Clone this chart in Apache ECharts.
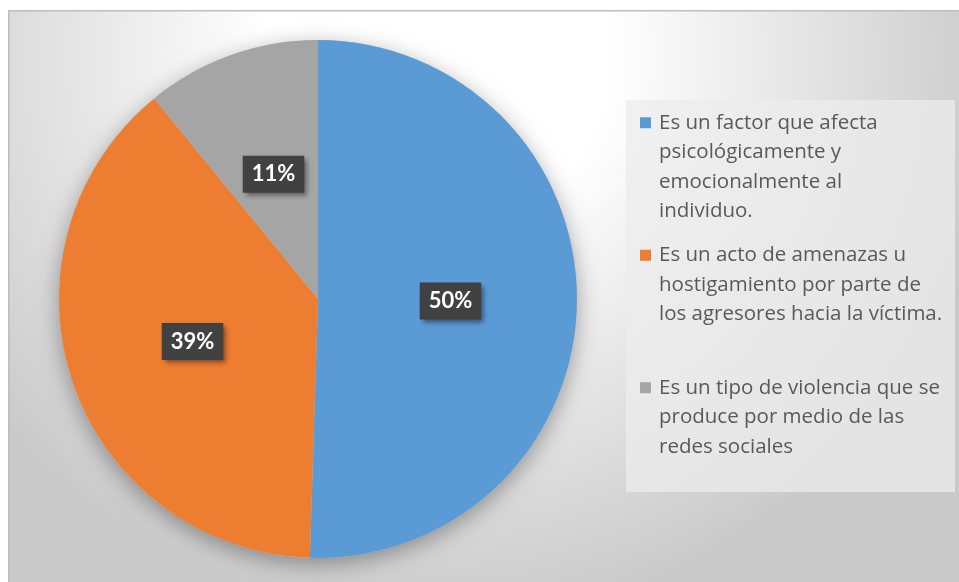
<!DOCTYPE html>
<html>
<head>
<meta charset="utf-8">
<script src="https://cdn.jsdelivr.net/npm/echarts@6/dist/echarts.min.js"></script>
<style>
  html, body { margin: 0; padding: 0; background: #fff; }
  #chart { width: 959px; height: 582px; }
</style>
</head>
<body>
<div id="chart"></div>
<script>
/* datos del grafico */
var categories = [
  'Es un factor que afecta\npsicológicamente y\nemocionalmente al\nindividuo.',
  'Es un acto de amenazas u\nhostigamiento por parte de\nlos agresores hacia la víctima.',
  'Es un tipo de violencia que se\nproduce por medio de las\nredes sociales'
];
var values = [50.5, 38.6, 10.9];
var colors = ['#5B9BD5', '#ED7D31', '#A5A5A5'];

var FONT = 'Open Sans';
var LEGEND_SIZE = 20.5;
var LH = 29.5;

var pieData = categories.map(function (c, i) {
  return { name: c, value: values[i], itemStyle: { color: colors[i] } };
});

var rich = {
  t: { fontFamily: FONT, fontSize: LEGEND_SIZE, color: '#595959', lineHeight: LH, width: 296 },
  sp: { width: 11, lineHeight: LH },
  g: { width: 8, lineHeight: LH }
};
colors.forEach(function (c, i) {
  rich['sq' + i] = { width: 11, height: 11, backgroundColor: c, lineHeight: LH };
});

var option = {
  animation: false,
  graphic: [{
    type: 'rect',
    left: 8, top: 10,
    shape: { width: 951, height: 572 },
    style: {
      fill: {
        type: 'radial', x: 0.45, y: 0.08, r: 1,
        colorStops: [
          { offset: 0, color: '#ffffff' },
          { offset: 0.3, color: '#ffffff' },
          { offset: 1, color: '#c9c9c9' }
        ]
      },
      stroke: '#bdbdbd',
      lineWidth: 1.5
    },
    z: -10
  }],
  legend: {
    orient: 'vertical',
    left: 626,
    top: 100,
    padding: [8, 0, 1, 9],
    itemWidth: 0,
    itemHeight: 0,
    itemGap: 14.5,
    selectedMode: false,
    backgroundColor: 'rgba(236,236,236,0.75)',
    data: categories,
    formatter: function (name) {
      var i = categories.indexOf(name);
      var lines = name.split('\n');
      while (lines.length < 4) lines.push('\u00a0');
      return lines.map(function (l, k) {
        return (k === 0 ? '{sq' + i + '|}' : '{sp|}') + '{g|}{t|' + l + '}';
      }).join('\n');
    },
    textStyle: {
      fontFamily: FONT,
      fontSize: LEGEND_SIZE,
      color: '#595959',
      lineHeight: LH,
      rich: rich
    }
  },
  series: [
    {
      // sombra del circulo
      type: 'pie',
      silent: true,
      center: [318, 299],
      radius: 259,
      label: { show: false },
      labelLine: { show: false },
      itemStyle: {
        color: '#cccccc',
        shadowBlur: 22,
        shadowOffsetY: 6,
        shadowColor: 'rgba(0,0,0,0.35)'
      },
      data: [{ value: 1, name: '' }],
      z: 1
    },
    {
      type: 'pie',
      center: [318, 299],
      radius: 259,
      startAngle: 90,
      clockwise: true,
      percentPrecision: 0,
      itemStyle: { borderWidth: 0 },
      data: pieData,
      label: {
        show: true,
        position: 'inside',
        formatter: '{d}%',
        fontFamily: 'Lato',
        fontSize: 22,
        fontWeight: 'bold',
        color: '#ffffff',
        backgroundColor: '#414141',
        padding: [8, 9, 7, 9],
        shadowBlur: 5,
        shadowOffsetX: 3,
        shadowOffsetY: 3,
        shadowColor: 'rgba(0,0,0,0.45)'
      },
      labelLine: { show: false },
      emphasis: { disabled: true },
      z: 2
    }
  ]
};

var chart = echarts.init(document.getElementById('chart'));
chart.setOption(option);
</script>
</body>
</html>
